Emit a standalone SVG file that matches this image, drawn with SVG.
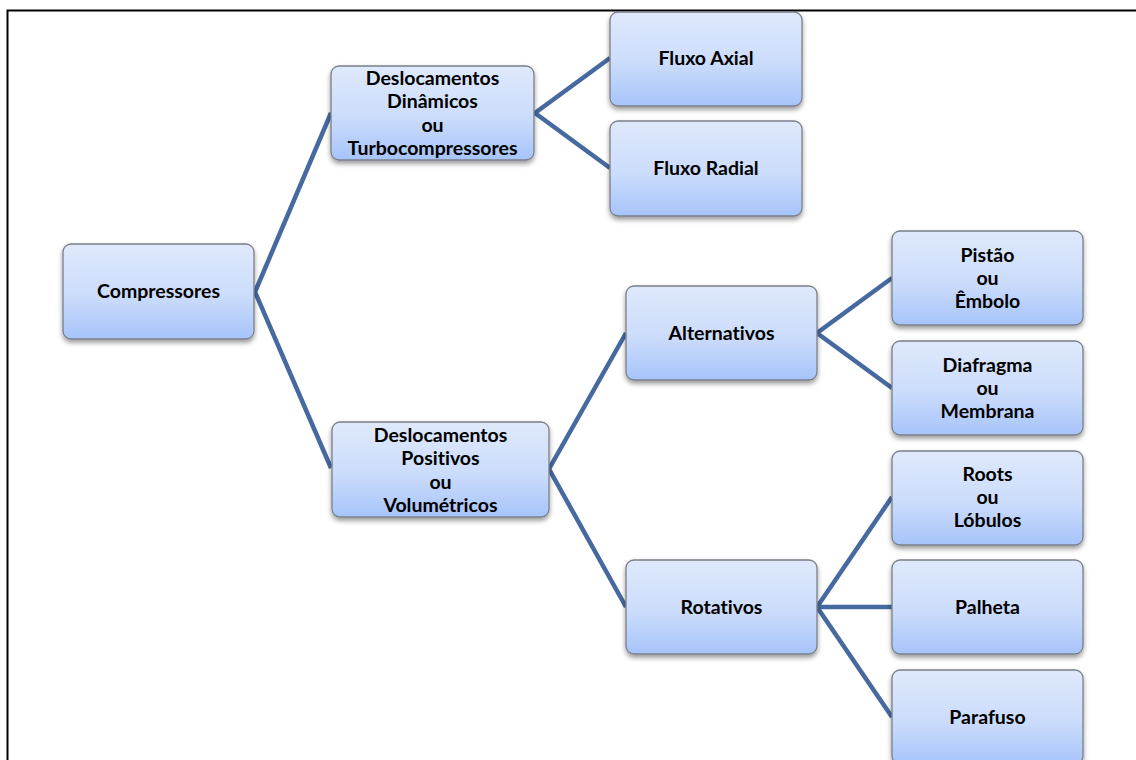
<svg xmlns="http://www.w3.org/2000/svg" width="1136" height="760" viewBox="0 0 1136 760">
<defs>
<linearGradient id="g" x1="0" y1="0" x2="0" y2="1">
<stop offset="0" stop-color="#dfe9fc"/>
<stop offset="0.55" stop-color="#cbdcfb"/>
<stop offset="1" stop-color="#a6c4fa"/>
</linearGradient>
<filter id="sh" x="-10%" y="-10%" width="120%" height="130%">
<feDropShadow dx="0" dy="3" stdDeviation="2.5" flood-color="#000" flood-opacity="0.4"/>
</filter>
</defs>
<style>
.box{fill:url(#g);stroke:#7a7f88;stroke-width:1.3;filter:url(#sh)}
.t{font-family:Lato,"Liberation Sans",sans-serif;font-weight:bold;font-size:19.5px;fill:#000;text-anchor:middle;font-variant-ligatures:none;font-feature-settings:"liga" 0,"dlig" 0}
.c{stroke:#4669a0;stroke-width:4.5;fill:none;stroke-linejoin:miter}
</style>
<rect x="0" y="0" width="1136" height="760" fill="#fff"/>
<path d="M7.5 762 V10.5 H1140" fill="none" stroke="#000" stroke-width="2"/>
<g id="connectors">
<polyline class="c" points="331,113 255,292 331,468"/>
<polyline class="c" points="610,58 535,113 610,168"/>
<polyline class="c" points="626,333 549,469 626,607"/>
<polyline class="c" points="892,278 817,333 892,388"/>
<polyline class="c" points="892,497 817,607 892,717"/>
<line class="c" x1="817" y1="607" x2="892" y2="607"/>
</g>
<g id="compressores"><rect class="box" x="63" y="244" width="191" height="95" rx="8"/><text class="t" x="158.5" y="298">Compressores</text></g>
<g id="dinamicos"><rect class="box" x="331" y="66" width="203" height="94" rx="8"/><text class="t" x="432.5"><tspan x="432.5" y="85">Deslocamentos</tspan><tspan x="432.5" y="108">Dinâmicos</tspan><tspan x="432.5" y="132">ou</tspan><tspan x="432.5" y="155">Turbocompressores</tspan></text></g>
<g id="fluxo-axial"><rect class="box" x="610" y="12" width="192" height="94" rx="8"/><text class="t" x="706" y="65">Fluxo Axial</text></g>
<g id="fluxo-radial"><rect class="box" x="610" y="121" width="192" height="95" rx="8"/><text class="t" x="706" y="175">Fluxo Radial</text></g>
<g id="positivos"><rect class="box" x="332" y="422" width="217" height="95" rx="8"/><text class="t" x="440.5"><tspan x="440.5" y="442">Deslocamentos</tspan><tspan x="440.5" y="465">Positivos</tspan><tspan x="440.5" y="489">ou</tspan><tspan x="440.5" y="512">Volumétricos</tspan></text></g>
<g id="alternativos"><rect class="box" x="626" y="286" width="191" height="94" rx="8"/><text class="t" x="721.5" y="340">Alternativos</text></g>
<g id="rotativos"><rect class="box" x="626" y="560" width="191" height="94" rx="8"/><text class="t" x="721.5" y="614">Rotativos</text></g>
<g id="pistao"><rect class="box" x="892" y="231" width="191" height="94" rx="8"/><text class="t" x="987.5"><tspan x="987.5" y="262">Pistão</tspan><tspan x="987.5" y="285">ou</tspan><tspan x="987.5" y="308">Êmbolo</tspan></text></g>
<g id="diafragma"><rect class="box" x="892" y="341" width="191" height="94" rx="8"/><text class="t" x="987.5"><tspan x="987.5" y="372">Diafragma</tspan><tspan x="987.5" y="395">ou</tspan><tspan x="987.5" y="418">Membrana</tspan></text></g>
<g id="roots"><rect class="box" x="892" y="451" width="191" height="94" rx="8"/><text class="t" x="987.5"><tspan x="987.5" y="481">Roots</tspan><tspan x="987.5" y="504">ou</tspan><tspan x="987.5" y="527">Lóbulos</tspan></text></g>
<g id="palheta"><rect class="box" x="892" y="560" width="191" height="94" rx="8"/><text class="t" x="987.5" y="614">Palheta</text></g>
<g id="parafuso"><rect class="box" x="892" y="670" width="191" height="94" rx="8"/><text class="t" x="987.5" y="724">Parafuso</text></g>
</svg>
